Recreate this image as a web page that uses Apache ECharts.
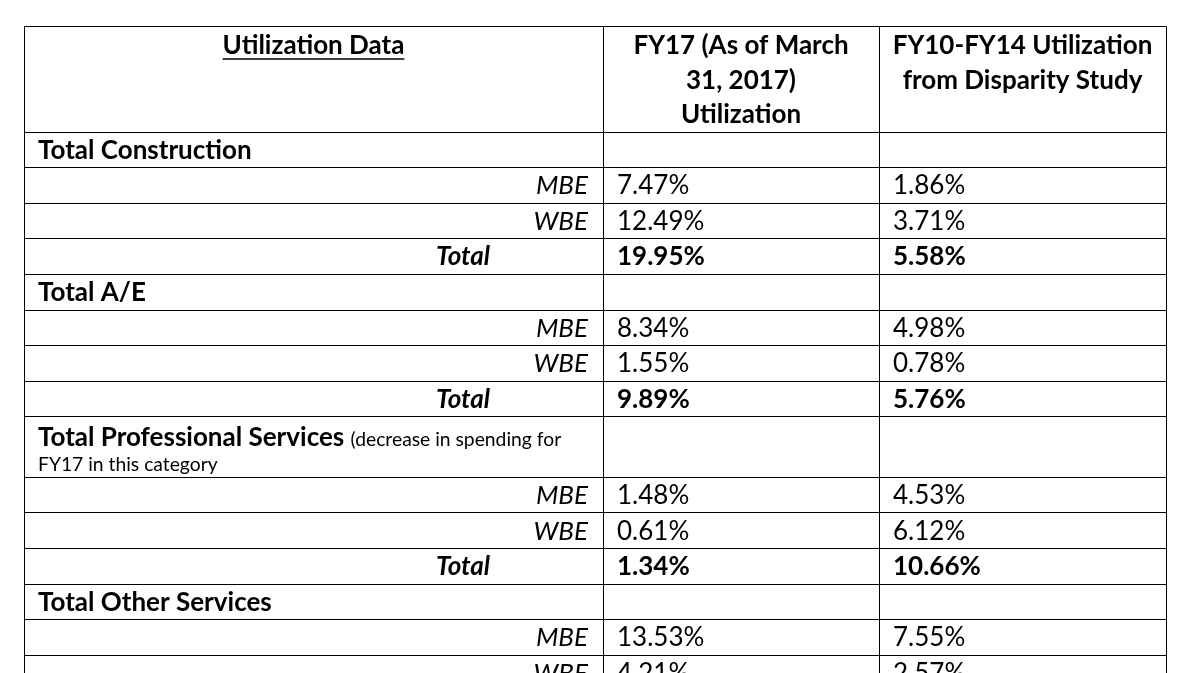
<!DOCTYPE html>
<html>
<head>
<meta charset="utf-8">
<script src="https://cdn.jsdelivr.net/npm/echarts@6/dist/echarts.min.js"></script>
<style>
html,body{margin:0;padding:0;background:#fff;}
#chart{width:1194px;height:673px;}
</style>
</head>
<body>
<div id="chart"></div>
<script>
// ---------- data ----------
const columnHeaders = [
  ['Utilization Data'],
  ['FY17 (As of March', '31, 2017)', 'Utilization'],
  ['FY10-FY14 Utilization', 'from Disparity Study']
];
const categories = ['Total Construction', 'Total A/E', 'Total Professional Services', 'Total Other Services'];
const categoryNotes = ['', '', ['(decrease in spending for', 'FY17 in this category'], ''];
const rowLabels = ['MBE', 'WBE', 'Total'];
const fy17MBE   = [7.47, 8.34, 1.48, 13.53];
const fy17WBE   = [12.49, 1.55, 0.61, 4.21];
const fy17Total = [19.95, 9.89, 1.34, null];
const fy10MBE   = [1.86, 4.98, 4.53, 7.55];
const fy10WBE   = [3.71, 0.78, 6.12, 2.57];
const fy10Total = [5.58, 5.76, 10.66, null];

// ---------- layout ----------
const FONT = 'Lato';
const SIZE = 26;
const SMALL = 19.3;
const colEdges = [0, 579, 855, 1142];
const HEADER_H = 105.5, ROW_H = 35.6, NOTE_H = 60.5;
const VIEW_H = 647;

const rows = [{kind: 'header'}];
categories.forEach((c, i) => {
  rows.push({kind: 'section', cat: i});
  rows.push({kind: 'item', label: rowLabels[0], a: fy17MBE[i], b: fy10MBE[i]});
  rows.push({kind: 'item', label: rowLabels[1], a: fy17WBE[i], b: fy10WBE[i]});
  if (fy17Total[i] != null) rows.push({kind: 'total', label: rowLabels[2], a: fy17Total[i], b: fy10Total[i]});
});
const rowH = rows.map(r => r.kind === 'header' ? HEADER_H : (r.kind === 'section' && categoryNotes[r.cat] ? NOTE_H : ROW_H));
const rowTop = [];
let acc = 0;
rowH.forEach(h => { rowTop.push(acc); acc += h; });

const measureCtx = document.createElement('canvas').getContext('2d');
function measure(text, weight, size, style) {
  measureCtx.font = (style || 'normal') + ' ' + (weight || 'normal') + ' ' + size + 'px ' + FONT;
  return measureCtx.measureText(text).width;
}
const fmt = v => v.toFixed(2) + '%';

function txt(x, y, text, o) {
  return {
    type: 'text', x: x, y: y,
    style: Object.assign({text: text, fill: '#000', fontFamily: FONT, fontSize: SIZE,
      fontWeight: 'normal', fontStyle: 'normal', align: 'left', verticalAlign: 'middle'}, o || {})
  };
}

function renderItem(params, api) {
  const i = api.value(0);
  const r = rows[i];
  const y0 = rowTop[i], y1 = y0 + rowH[i];
  const children = [];
  const px = [];
  for (let c = 0; c < 4; c++) px.push(Math.round(api.coord([colEdges[c], y0])[0]));
  const topF = api.coord([0, y0])[1];
  const botF = api.coord([0, y1])[1];
  const top = Math.round(topF), bot = Math.round(botF);
  for (let c = 0; c < 3; c++) {
    children.push({type: 'rect', shape: {x: px[c] + 0.5, y: top + 0.5, width: px[c + 1] - px[c], height: bot - top},
      style: {fill: 'none', stroke: '#000', lineWidth: 1}});
  }
  const midY = (topF + botF) / 2 + 1;
  if (r.kind === 'header') {
    columnHeaders.forEach((lines, c) => {
      const cx = (px[c] + px[c + 1]) / 2;
      lines.forEach((ln, k) => {
        children.push(txt(cx, topF + 20 + k * 34.5, ln, {fontWeight: 'bold', align: 'center'}));
      });
    });
    const w = measure(columnHeaders[0][0], 'bold', SIZE);
    const cx0 = (px[0] + px[1]) / 2;
    children.push({type: 'line', shape: {x1: cx0 - w / 2, y1: topF + 33, x2: cx0 + w / 2, y2: topF + 33},
      style: {stroke: '#000', lineWidth: 1.5}});
  } else if (r.kind === 'section') {
    const note = categoryNotes[r.cat];
    const x = px[0] + 14;
    if (note) {
      const y = topF + 21;
      children.push(txt(x, y, categories[r.cat], {fontWeight: 'bold'}));
      const w = measure(categories[r.cat] + ' ', 'bold', SIZE);
      children.push(txt(x + w, y + 2, note[0], {fontSize: SMALL}));
      children.push(txt(x, topF + 48, note[1], {fontSize: SMALL}));
    } else {
      children.push(txt(x, midY, categories[r.cat], {fontWeight: 'bold'}));
    }
  } else {
    const isTotal = r.kind === 'total';
    const lx = isTotal ? px[0] + 466 : px[1] - 15;
    children.push(txt(lx, midY, r.label, {fontStyle: 'italic', fontWeight: isTotal ? 'bold' : 'normal', align: 'right'}));
    children.push(txt(px[1] + 14, midY, fmt(r.a), {fontWeight: isTotal ? 'bold' : 'normal'}));
    children.push(txt(px[2] + 14, midY, fmt(r.b), {fontWeight: isTotal ? 'bold' : 'normal'}));
  }
  return {type: 'group', children: children};
}

const chart = echarts.init(document.getElementById('chart'), null, {renderer: 'canvas'});
chart.setOption({
  animation: false,
  backgroundColor: '#fff',
  grid: {left: 24, top: 26, width: colEdges[3], height: VIEW_H, outerBoundsMode: 'none', containLabel: false},
  xAxis: {type: 'value', min: 0, max: colEdges[3], show: false},
  yAxis: {type: 'value', min: 0, max: VIEW_H, inverse: true, show: false},
  series: [{
    type: 'custom',
    renderItem: renderItem,
    clip: false,
    silent: true,
    data: rows.map((r, i) => [i])
  }]
});
</script>
</body>
</html>
